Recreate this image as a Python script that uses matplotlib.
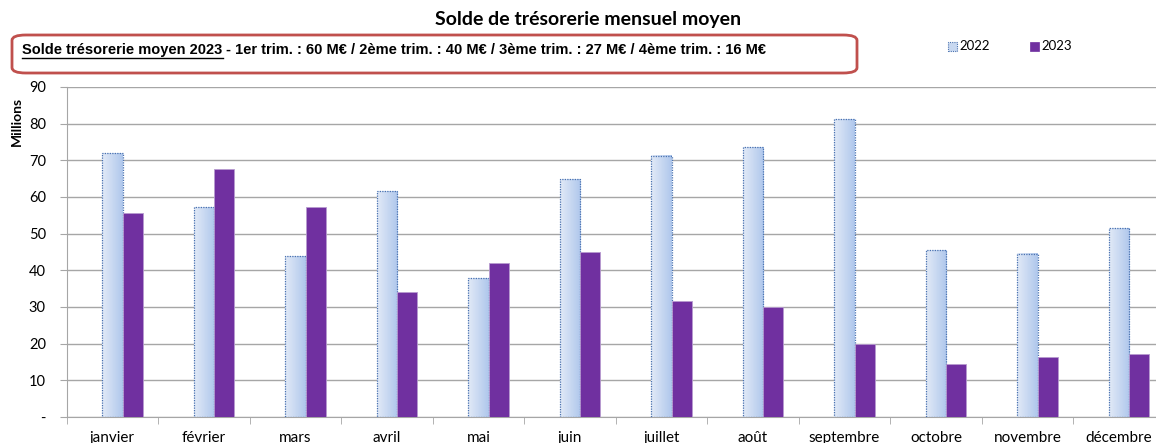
import matplotlib
matplotlib.use("Agg")
import matplotlib.pyplot as plt
import numpy as np
from matplotlib.patches import FancyBboxPatch, Rectangle
from matplotlib.lines import Line2D

months = ["janvier", "février", "mars", "avril", "mai", "juin",
          "juillet", "août", "septembre", "octobre", "novembre", "décembre"]
solde_2022 = [72.0, 57.2, 43.9, 61.6, 37.9, 64.9, 71.2, 73.6, 81.2, 45.5, 44.5, 51.5]
solde_2023 = [55.5, 67.6, 57.3, 34.1, 42.0, 45.0, 31.6, 30.0, 19.9, 14.5, 16.4, 17.2]
yticks = [0, 10, 20, 30, 40, 50, 60, 70, 80, 90]
ytick_labels = ["-", "10", "20", "30", "40", "50", "60", "70", "80", "90"]

prefix = "Solde trésorerie moyen 2023 "
summary = "- 1er trim. : 60 M€ / 2ème trim. : 40 M€ / 3ème trim. : 27 M€ / 4ème trim. : 16 M€"

plt.rcParams["font.family"] = ["Lato", "DejaVu Sans"]

W, H = 1156, 443
fig = plt.figure(figsize=(W / 100, H / 100), dpi=100)
ax = fig.add_axes([66.7 / W, 26 / H, 1098 / W, 330 / H])

bw = 0.222
x = np.arange(len(months))
purple = "#7030a0"
grad = np.linspace(0, 1, 64).reshape(1, -1)
cmap = matplotlib.colors.LinearSegmentedColormap.from_list("pale", ["#e2eaf7", "#afc7ec"])

# 2022 bars: horizontal gradient fill under a dotted outline
for xi, v in zip(x, solde_2022):
    x0, x1 = xi - bw / 2, xi + bw / 2
    ax.imshow(grad, extent=(x0, x1, 0, v), aspect="auto", cmap=cmap, zorder=2,
              interpolation="bilinear")
ax.bar(x, solde_2022, bw, facecolor="none", edgecolor="#4a72b0", linewidth=0.9,
       linestyle=(0, (1, 1)), zorder=3, label="2022")
ax.bar(x + bw, solde_2023, bw, color=purple, edgecolor="#b79bd0", linewidth=0.6,
       zorder=3, label="2023")

ax.set_xlim(-0.5, 11.5)
ax.set_ylim(0, 90)
ax.set_yticks(yticks)
ax.set_yticklabels(ytick_labels, fontsize=10.5)
ax.yaxis.grid(True, color="#a6a6a6", linewidth=1.0, zorder=0)
ax.set_axisbelow(True)
ax.tick_params(axis="y", length=5, color="#a6a6a6", pad=10)

ax.set_xticks(x)
ax.set_xticklabels(months, fontsize=11)
ax.set_xticks(np.arange(-0.5, 12, 1), minor=True)
ax.tick_params(axis="x", which="major", length=0, pad=10)
ax.tick_params(axis="x", which="minor", length=5, color="#a6a6a6")

for side in ["top", "right"]:
    ax.spines[side].set_visible(False)
for side in ["left", "bottom"]:
    ax.spines[side].set_color("#a6a6a6")

fig.text(588 / W, 1 - 20 / H, "Solde de trésorerie mensuel moyen", ha="center",
         va="center", fontsize=14, fontweight="bold")
fig.text(17 / W, 1 - 121 / H, "Millions", rotation=90, ha="center", va="center",
         fontsize=10, fontweight="bold")

# note box with the quarterly averages
box = FancyBboxPatch((12 / W, 1 - 73 / H), 845 / W, 38 / H,
                     boxstyle="round,pad=0,rounding_size=0.012",
                     transform=fig.transFigure, facecolor="white",
                     edgecolor="#c0504d", linewidth=2)
fig.add_artist(box)
t1 = fig.text(22 / W, 1 - 50 / H, prefix, ha="left", va="center", fontsize=10.5,
              fontweight="bold", family="Liberation Sans")
fig.canvas.draw()
bb = t1.get_window_extent().transformed(fig.transFigure.inverted())
fig.add_artist(Line2D([bb.x0, bb.x1 - 3 / W], [1 - 58 / H, 1 - 58 / H],
                      transform=fig.transFigure, color="black", linewidth=1))
fig.text(bb.x1, 1 - 50 / H, summary, ha="left", va="center", fontsize=10.5,
         fontweight="bold", family="Liberation Sans")

# legend
for lx, lab, year in [(948, "2022", 0), (1030, "2023", 1)]:
    if year == 0:
        sq = Rectangle((lx / W, 1 - 51 / H), 9 / W, 9 / H, transform=fig.transFigure,
                       facecolor="#c8d8f0", edgecolor="#4a72b0", linewidth=0.8,
                       linestyle=(0, (1, 1)))
    else:
        sq = Rectangle((lx / W, 1 - 51 / H), 9 / W, 9 / H, transform=fig.transFigure,
                       facecolor=purple, edgecolor=purple, linewidth=0.5)
    fig.add_artist(sq)
    fig.text((lx + 11) / W, 1 - 46 / H, lab, ha="left", va="center", fontsize=9.5)

fig.savefig("out.png", dpi=100)
